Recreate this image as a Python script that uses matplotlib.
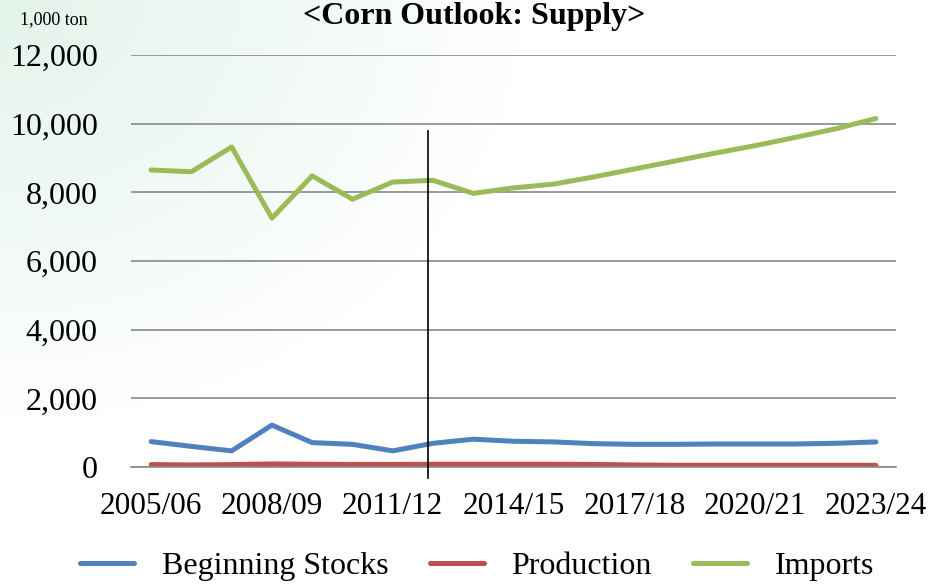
import numpy as np
import matplotlib
matplotlib.use("Agg")
import matplotlib.pyplot as plt

plt.rcParams["font.family"] = ["Liberation Serif", "DejaVu Serif"]

years = ["2005/06", "2006/07", "2007/08", "2008/09", "2009/10", "2010/11",
         "2011/12", "2012/13", "2013/14", "2014/15", "2015/16", "2016/17",
         "2017/18", "2018/19", "2019/20", "2020/21", "2021/22", "2022/23",
         "2023/24"]
beginning_stocks = [740, 600, 470, 1220, 710, 660, 470, 690, 810, 750, 730,
                    680, 660, 660, 670, 670, 670, 690, 730]
production = [70, 60, 70, 90, 80, 75, 75, 80, 80, 80, 80, 75, 60, 50, 50,
              50, 50, 50, 50]
imports = [8650, 8600, 9320, 7250, 8480, 7800, 8300, 8350, 7970, 8130, 8240,
           8450, 8680, 8910, 9140, 9360, 9600, 9850, 10150]

series_names = ["Beginning Stocks", "Production", "Imports"]
colors = ["#4F81BD", "#C0504D", "#9BBB59"]
outlook_start = 6.88  # position of the vertical marker line

fig = plt.figure(figsize=(9.31, 5.85), dpi=100)

# faint green wash in the top-left corner
bg = fig.add_axes([0, 0, 1, 1], zorder=-10)
h, w = 585, 931
yy, xx = np.mgrid[0:h, 0:w]
wt = np.clip(1 - np.sqrt((xx / 520.0) ** 2 + (yy / 420.0) ** 2), 0, 1) ** 0.9
mint = np.array([0.89, 0.955, 0.92])
img = (1 - wt[..., None]) * 1.0 + wt[..., None] * mint
bg.imshow(img, aspect="auto", extent=[0, 1, 0, 1], origin="upper")
bg.axis("off")

ax = fig.add_axes([131 / 931, 1 - 467 / 585, (896 - 131) / 931, (467 - 55) / 585])
ax.patch.set_alpha(0)

x = np.arange(len(years))
for vals, name, c in zip([beginning_stocks, production, imports], series_names, colors):
    ax.plot(x, vals, color=c, lw=3.6, label=name, solid_capstyle="round",
            solid_joinstyle="round")

ax.plot([outlook_start, outlook_start], [-320, 9800], color="black", lw=1.2,
        clip_on=False, zorder=5)

ax.set_xlim(-0.5, len(years) - 0.5)
ax.set_ylim(0, 12000)
ax.set_yticks(range(0, 12001, 2000))
ax.set_yticklabels([f"{v:,}" for v in range(0, 12001, 2000)])
ax.set_xticks(x[::3])
ax.set_xticklabels(years[::3])
ax.yaxis.grid(True, color="#888888", lw=1.2)
ax.set_axisbelow(True)
for s in ["top", "right", "left"]:
    ax.spines[s].set_visible(False)
ax.spines["bottom"].set_color("#888888")
ax.spines["bottom"].set_linewidth(1.2)
ax.tick_params(axis="y", length=0, pad=24, labelsize=23)
ax.tick_params(axis="x", length=0, pad=18, labelsize=22.5)

fig.text(474 / 931, 1 - 24 / 585, "<Corn Outlook: Supply>", ha="center",
         va="baseline", fontsize=23, fontweight="bold")
fig.text(20 / 931, 1 - 24 / 585, "1,000 ton", ha="left", va="baseline",
         fontsize=13)

fig.legend(loc="center", bbox_to_anchor=(477 / 931, 1 - 566 / 585), ncol=3,
           frameon=False, fontsize=23, handlelength=1.7, handletextpad=0.85,
           columnspacing=1.3)

fig.savefig("out.png", dpi=100)
